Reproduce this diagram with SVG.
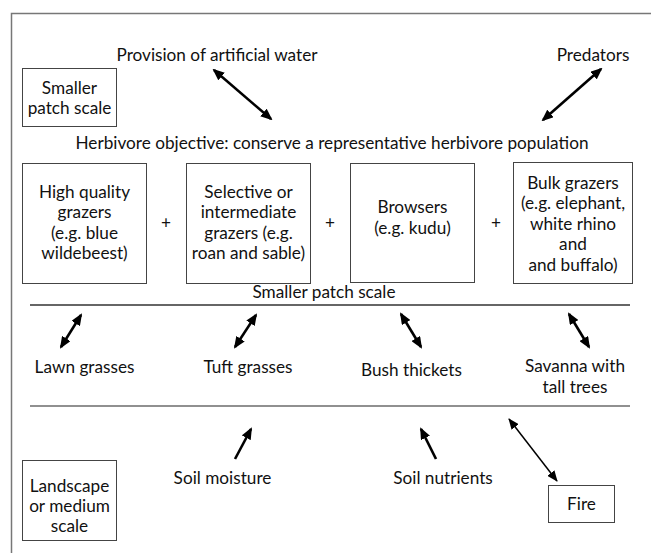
<svg xmlns="http://www.w3.org/2000/svg" width="651" height="553" viewBox="0 0 651 553">
<defs>
<style>
text{font-family:Lato,"Open Sans","Liberation Sans",sans-serif;font-size:17.2px;fill:#111;text-anchor:middle}
.box{fill:#fff;stroke:#444;stroke-width:1}
.thick{stroke:#000;stroke-width:2.6;fill:none}
.thin{stroke:#000;stroke-width:1.5;fill:none}
</style>
<marker id="ah" viewBox="0 0 12 10" refX="10" refY="5" markerWidth="12" markerHeight="10" markerUnits="userSpaceOnUse" orient="auto-start-reverse">
<path d="M0,0 L12,5 L0,10 z" fill="#000"/>
</marker>
<marker id="ahs" viewBox="0 0 11 9" refX="10" refY="4.5" markerWidth="11" markerHeight="9" markerUnits="userSpaceOnUse" orient="auto-start-reverse">
<path d="M0,0 L11,4.5 L0,9 z" fill="#000"/>
</marker>
</defs>
<rect width="651" height="553" fill="#fff"/>
<path d="M11.5,553 V13.5 H651" fill="none" stroke="#777" stroke-width="1.5"/>

<g id="label-water"><text x="217" y="61">Provision of artificial water</text></g>
<g id="label-predators"><text x="593" y="61">Predators</text></g>
<g id="scale-small-box"><rect class="box" x="22.5" y="68.5" width="94" height="58"/><text x="69.5" y="94">Smaller</text><text x="69.5" y="114">patch scale</text></g>
<g id="objective"><text x="332" y="149">Herbivore objective: conserve a representative herbivore population</text></g>

<g id="high-quality"><rect class="box" x="22.5" y="163.5" width="124" height="120"/><text x="84.5" y="197.5">High quality</text><text x="84.5" y="218">grazers</text><text x="84.5" y="238.5">(e.g. blue</text><text x="84.5" y="259">wildebeest)</text></g>
<g id="selective"><rect class="box" x="186.5" y="163.5" width="124" height="120"/><text x="248.5" y="197.5">Selective or</text><text x="248.5" y="218">intermediate</text><text x="248.5" y="238.5">grazers (e.g.</text><text x="248.5" y="259">roan and sable)</text></g>
<g id="browsers"><rect class="box" x="350.5" y="163.5" width="124" height="119"/><text x="412.5" y="213">Browsers</text><text x="412.5" y="233.5">(e.g. kudu)</text></g>
<g id="bulk"><rect class="box" x="513.5" y="162.5" width="119" height="121"/><text x="573" y="188.5">Bulk grazers</text><text x="573" y="209">(e.g. elephant,</text><text x="573" y="229.5">white rhino</text><text x="573" y="250">and</text><text x="573" y="270.5">and buffalo)</text></g>
<g id="plus"><text x="166" y="229">+</text><text x="330" y="229">+</text><text x="496" y="229">+</text></g>
<g id="scale-small-label"><text x="324" y="298">Smaller patch scale</text></g>

<g id="lawn"><text x="84.5" y="373">Lawn grasses</text></g>
<g id="tuft"><text x="248" y="373">Tuft grasses</text></g>
<g id="bush"><text x="411.5" y="376">Bush thickets</text></g>
<g id="savanna"><text x="575" y="372">Savanna with</text><text x="575" y="393">tall trees</text></g>

<g id="moisture"><text x="222.5" y="484">Soil moisture</text></g>
<g id="nutrients"><text x="443" y="484">Soil nutrients</text></g>
<g id="fire"><rect class="box" x="548.5" y="485.5" width="66" height="37"/><text x="581.5" y="510">Fire</text></g>
<g id="scale-landscape-box"><rect class="box" x="22.5" y="460.5" width="94" height="80"/><text x="69.5" y="491.5">Landscape</text><text x="69.5" y="511.5">or medium</text><text x="69.5" y="532">scale</text></g>

<g id="connectors">
<line x1="30" y1="305" x2="630" y2="305" stroke="#666" stroke-width="1.8"/>
<line x1="30" y1="406" x2="630" y2="406" stroke="#222" stroke-width="1.2"/>
<line class="thick" x1="214" y1="70" x2="271" y2="119" marker-start="url(#ah)" marker-end="url(#ah)"/>
<line class="thick" x1="601" y1="69" x2="543" y2="120" marker-start="url(#ah)" marker-end="url(#ah)"/>
<line class="thick" x1="81" y1="315" x2="61" y2="347" marker-start="url(#ah)" marker-end="url(#ah)"/>
<line class="thick" x1="256" y1="315" x2="235" y2="347" marker-start="url(#ah)" marker-end="url(#ah)"/>
<line class="thick" x1="401" y1="314" x2="421" y2="347" marker-start="url(#ah)" marker-end="url(#ah)"/>
<line class="thick" x1="569" y1="314" x2="589" y2="347" marker-start="url(#ah)" marker-end="url(#ah)"/>
<line class="thick" x1="235" y1="459" x2="251" y2="429" marker-end="url(#ah)"/>
<line class="thick" x1="436" y1="459" x2="421" y2="429" marker-end="url(#ah)"/>
<line class="thin" x1="509" y1="419" x2="557" y2="481" marker-start="url(#ahs)" marker-end="url(#ahs)"/>
</g>
</svg>
